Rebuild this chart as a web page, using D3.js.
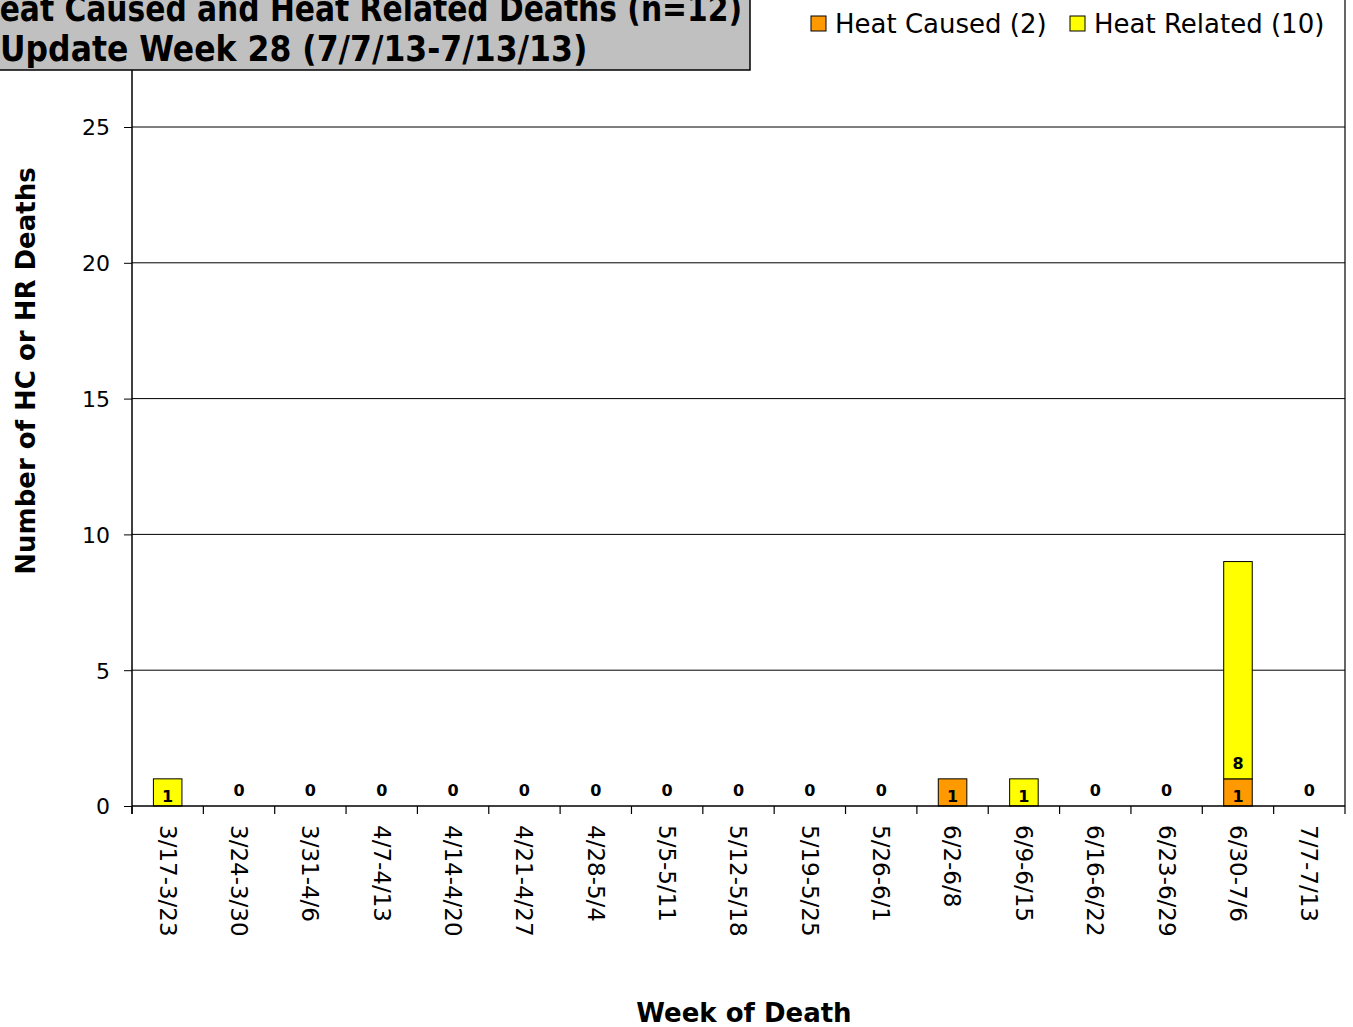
<!doctype html>
<html>
<head>
<meta charset="utf-8">
<style>
    html, body { margin: 0; padding: 0; background: #fff; }
    svg { display: block; }
    text { font-family: "DejaVu Sans", Verdana, sans-serif; fill: #000; }
    .title { font-weight: bold; font-size: 35px; }
</style>
</head>
<body>
<svg id="chart" width="1353" height="1027"></svg>
<script src="https://cdn.jsdelivr.net/npm/d3@7/dist/d3.min.js"></script>
<script>
    var weeks = ['3/17-3/23', '3/24-3/30', '3/31-4/6', '4/7-4/13', '4/14-4/20', '4/21-4/27', '4/28-5/4',
        '5/5-5/11', '5/12-5/18', '5/19-5/25', '5/26-6/1', '6/2-6/8', '6/9-6/15', '6/16-6/22',
        '6/23-6/29', '6/30-7/6', '7/7-7/13'];
    var heatCaused  = [0, 0, 0, 0, 0, 0, 0, 0, 0, 0, 0, 1, 0, 0, 0, 1, 0];
    var heatRelated = [1, 0, 0, 0, 0, 0, 0, 0, 0, 0, 0, 0, 1, 0, 0, 8, 0];
    var seriesNames = ['Heat Caused (2)', 'Heat Related (10)'];
    var seriesColors = ['#ff9900', '#ffff00'];
    var yTicks = [0, 5, 10, 15, 20, 25];
    var titleLines = ['Heat Caused and Heat Related Deaths (n=12)', 'Update Week 28 (7/7/13-7/13/13)'];

    var left = 132, right = 1345, bottom = 806;
    var svg = d3.select('#chart');

    var x = d3.scaleBand().domain(weeks).range([left, right]).paddingInner(0.6).paddingOuter(0.3);
    var y = d3.scaleLinear().domain([0, 25]).range([bottom, 127]);

    // gridlines
    svg.append('g').selectAll('line')
        .data(yTicks.slice(1))
        .enter().append('line')
        .attr('x1', left).attr('x2', right)
        .attr('y1', function(d){ return y(d); }).attr('y2', function(d){ return y(d); })
        .attr('stroke', '#000').attr('stroke-width', 1);

    // right frame line
    svg.append('line').attr('x1', right).attr('x2', right).attr('y1', 0).attr('y2', bottom)
        .attr('stroke', '#000').attr('stroke-width', 1.2);

    // stacked bars
    var stackData = weeks.map(function(w, i){ return {week: w, hc: heatCaused[i], hr: heatRelated[i]}; });
    var stacked = d3.stack().keys(['hc', 'hr'])(stackData);

    var layers = svg.append('g').selectAll('g')
        .data(stacked)
        .enter().append('g')
        .attr('fill', function(d, i){ return seriesColors[i]; });

    layers.selectAll('rect')
        .data(function(d){ return d.filter(function(s){ return s[1] - s[0] > 0; }); })
        .enter().append('rect')
        .attr('x', function(d){ return x(d.data.week); })
        .attr('width', x.bandwidth())
        .attr('y', function(d){ return y(d[1]); })
        .attr('height', function(d){ return y(d[0]) - y(d[1]); })
        .attr('stroke', '#000').attr('stroke-width', 1);

    // value labels inside segments
    layers.selectAll('text')
        .data(function(d){ return d.filter(function(s){ return s[1] - s[0] > 0; }); })
        .enter().append('text')
        .attr('x', function(d){ return x(d.data.week) + x.bandwidth() / 2; })
        .attr('y', function(d){
            var h = y(d[0]) - y(d[1]);
            return y(d[0]) - Math.min(10, h * 0.14);
        })
        .attr('text-anchor', 'middle')
        .style('font-weight', 'bold').style('font-size', '16px')
        .text(function(d){ return d[1] - d[0]; });

    // zero labels
    svg.append('g').selectAll('text')
        .data(stackData.filter(function(d){ return d.hc + d.hr === 0; }))
        .enter().append('text')
        .attr('x', function(d){ return x(d.week) + x.bandwidth() / 2; })
        .attr('y', bottom - 10)
        .attr('text-anchor', 'middle')
        .style('font-weight', 'bold').style('font-size', '16px')
        .text('0');

    // y axis
    var yAxis = svg.append('g')
        .attr('transform', 'translate(' + left + ',0)')
        .call(d3.axisLeft(y).tickValues(yTicks).tickSize(8).tickPadding(14));
    yAxis.select('.domain').remove();
    yAxis.selectAll('line').attr('stroke', '#000');
    yAxis.selectAll('text').style('font-size', '22px').attr('dy', '0.36em');
    svg.append('line').attr('x1', left).attr('x2', left).attr('y1', 0).attr('y2', bottom + 8)
        .attr('stroke', '#000').attr('stroke-width', 1.5);

    // x axis
    var xAxis = svg.append('g')
        .attr('transform', 'translate(0,' + bottom + ')')
        .call(d3.axisBottom(x).tickSize(0).tickPadding(0));
    xAxis.select('.domain').remove();
    xAxis.selectAll('text')
        .attr('transform', 'translate(0,19) rotate(90)')
        .attr('y', 0).attr('dy', '0.35em').attr('x', 0)
        .attr('text-anchor', 'start')
        .style('font-size', '23px');
    svg.append('line').attr('x1', left).attr('x2', right).attr('y1', bottom).attr('y2', bottom)
        .attr('stroke', '#000').attr('stroke-width', 1.5);
    svg.append('g').selectAll('line')
        .data(d3.range(weeks.length + 1))
        .enter().append('line')
        .attr('x1', function(i){ return left + i * x.step(); })
        .attr('x2', function(i){ return left + i * x.step(); })
        .attr('y1', bottom).attr('y2', bottom + 8)
        .attr('stroke', '#000').attr('stroke-width', 1.2);

    // axis titles
    svg.append('text')
        .attr('transform', 'translate(35,371) rotate(-90)')
        .attr('text-anchor', 'middle')
        .style('font-weight', 'bold').style('font-size', '26px')
        .text('Number of HC or HR Deaths');
    svg.append('text')
        .attr('x', 744).attr('y', 1022)
        .attr('text-anchor', 'middle')
        .style('font-weight', 'bold').style('font-size', '26px')
        .text('Week of Death');

    // title box
    svg.append('rect')
        .attr('x', -10).attr('y', -10).attr('width', 760).attr('height', 80)
        .attr('fill', '#c0c0c0').attr('stroke', '#000').attr('stroke-width', 1.5);
    svg.append('text').attr('class', 'title')
        .attr('transform', 'translate(742,21) scale(0.85,1)').attr('text-anchor', 'end')
        .text(titleLines[0]);
    svg.append('text').attr('class', 'title')
        .attr('transform', 'translate(0,61) scale(0.9,1)').attr('text-anchor', 'start')
        .text(titleLines[1]);

    // legend
    var legendX = [811, 1070];
    var legend = svg.append('g').selectAll('g')
        .data(seriesNames)
        .enter().append('g')
        .attr('transform', function(d, i){ return 'translate(' + legendX[i] + ',16)'; });
    legend.append('rect')
        .attr('width', 15).attr('height', 15)
        .attr('fill', function(d, i){ return seriesColors[i]; })
        .attr('stroke', '#000').attr('stroke-width', 1);
    legend.append('text')
        .attr('x', 24).attr('y', 17)
        .style('font-size', '26px')
        .text(function(d){ return d; });
</script>
</body>
</html>
